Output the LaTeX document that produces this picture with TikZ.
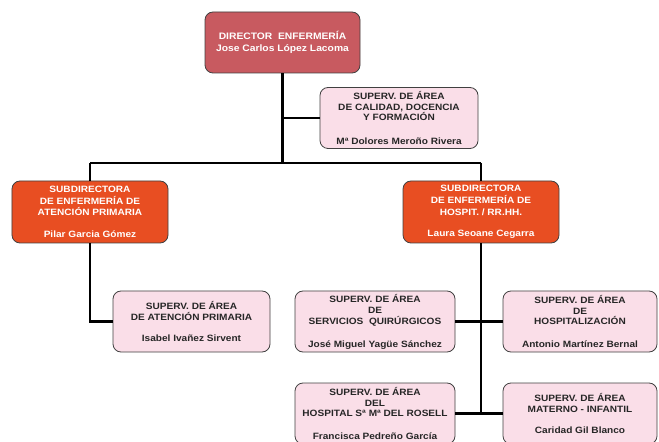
\documentclass[tikz,border=0pt]{standalone}
\usepackage{fontspec}
\setmainfont{Liberation Sans}[FakeStretch=1.1]
\usetikzlibrary{positioning}
\definecolor{dirred}{RGB}{200,90,96}
\definecolor{suborange}{RGB}{232,78,34}
\definecolor{superpink}{RGB}{250,222,232}

\tikzset{
  box/.style={draw=black!75, thick, rounded corners=8bp, align=center, inner sep=2bp},
  dirbox/.style={box, fill=dirred, text=white, minimum width=155bp, minimum height=61bp,
    font=\fontsize{9.4}{12.5}\selectfont\bfseries},
  subbox/.style={box, fill=suborange, text=white, minimum width=156bp, minimum height=62bp,
    font=\fontsize{9.2}{11.7}\selectfont\bfseries},
  supbox/.style={box, fill=superpink, text=black!85, minimum width=157bp, minimum height=61bp,
    font=\fontsize{9.2}{11}\selectfont\bfseries},
  link/.style={line width=2.6bp}
}

\begin{document}
\begin{tikzpicture}[x=1bp, y=-1bp]
      \useasboundingbox (0,0) rectangle (659,442);
      \clip (0,0) rectangle (659,442);

      % Director
      \node[dirbox] (dir) at (282.5,42.5) {DIRECTOR\ \ ENFERMERÍA\\Jose Carlos López Lacoma};
      \node[supbox, minimum width=158bp] (cal) at (399,118)
        {SUPERV. DE ÁREA\\DE CALIDAD, DOCENCIA\\Y FORMACIÓN\\[13bp]Mª Dolores Meroño Rivera};

      % Subdirectoras
      \node[subbox] (subap) at (90,212)
        {SUBDIRECTORA\\DE ENFERMERÍA DE\\ATENCIÓN PRIMARIA\\[10bp]Pilar Garcia Gómez};
      \node[subbox] (subho) at (481,212)
        {SUBDIRECTORA\\DE ENFERMERÍA DE\\HOSPIT. / RR.HH.\\[10bp]Laura Seoane Cegarra};

      % Supervisores
      \node[supbox] (supap) at (191.5,321.5)
        {SUPERV. DE ÁREA\\DE ATENCIÓN PRIMARIA\\[10bp]Isabel Ivañez Sirvent};
      \node[supbox, minimum width=160bp] (supsq) at (375,321.5)
        {SUPERV. DE ÁREA\\DE\\SERVICIOS\ \ QUIRÚRGICOS\\[12bp]José Miguel Yagüe Sánchez};
      \node[supbox, minimum width=154bp] (suphz) at (580,321.5)
        {SUPERV. DE ÁREA\\DE\\HOSPITALIZACIÓN\\[12bp]Antonio Martínez Bernal};
      \node[supbox, minimum width=160bp] (suprs) at (375,413.5)
        {SUPERV. DE ÁREA\\DEL\\HOSPITAL Sª Mª DEL ROSELL\\[12bp]Francisca Pedreño García};
      \node[supbox, minimum width=154bp] (supmi) at (580,413.5)
        {SUPERV. DE ÁREA\\MATERNO - INFANTIL\\[10bp]Caridad Gil Blanco};

      % connectors
      \coordinate (hub) at (dir.south |- 0,163);
      \draw[link] (dir.south) -- (hub);
      \draw[link] (dir.south |- cal.west) -- (cal.west);
      \draw[link] (subap.north |- hub) -- (subho.north |- hub);
      \draw[link] (subap.north |- hub) -- (subap.north);
      \draw[link] (subho.north |- hub) -- (subho.north);
      \draw[link] (subap.south) |- (supap.west);
      \coordinate (endho) at (subho.south |- 0,415);
      \draw[link] (subho.south) -- (endho);
      \draw[link] (supsq.east) -- (suphz.west);
      \draw[link] (suprs.east) -- (supmi.west);
    \end{tikzpicture}
\end{document}
